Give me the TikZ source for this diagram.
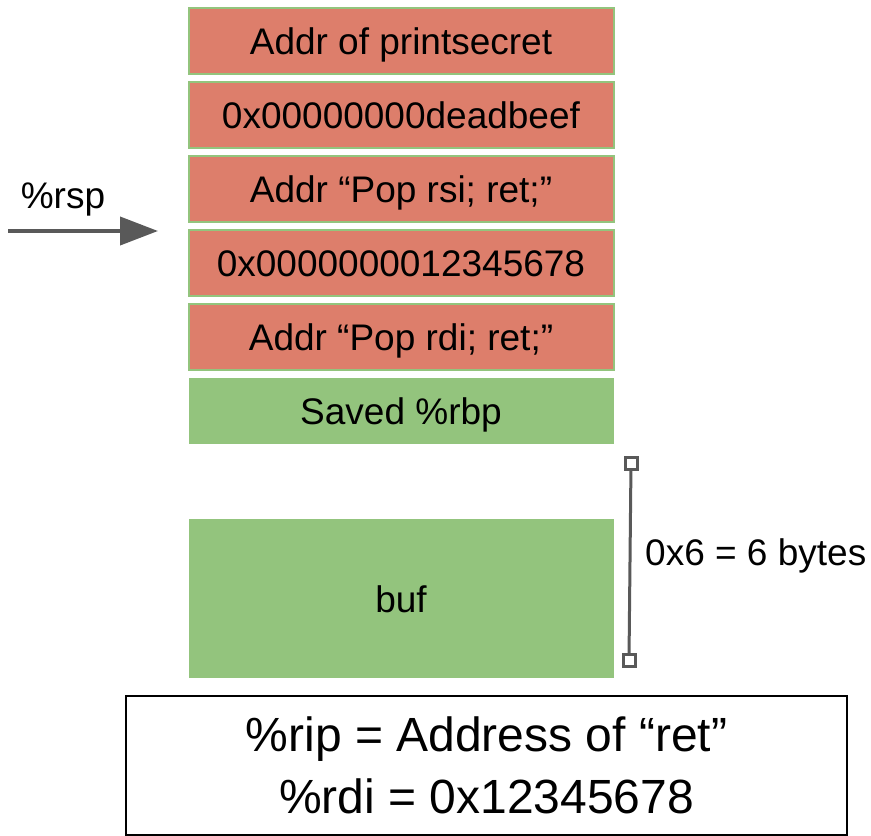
\documentclass[tikz,border=0pt]{standalone}
\usepackage{fontspec}
\setmainfont{Liberation Sans}
\usetikzlibrary{arrows.meta}
\definecolor{redbox}{HTML}{DD7E6B}
\definecolor{greenbox}{HTML}{93C47D}
\definecolor{darkgray}{HTML}{595959}
\begin{document}
\begin{tikzpicture}[x=1pt,y=-1pt,
  stackbox/.style={rectangle, minimum width=425pt, minimum height=66pt, inner sep=0pt,
    text height=27pt, text depth=0pt, font=\fontsize{37}{44}\selectfont},
  redslot/.style={stackbox, fill=redbox, draw=greenbox, line width=2pt},
  greenslot/.style={stackbox, fill=greenbox},
  label/.style={font=\fontsize{37}{44}\selectfont, inner sep=0pt},
  endsq/.style={rectangle, draw=darkgray, fill=white, line width=3pt, minimum size=12pt, inner sep=0pt}]
\useasboundingbox (0,0) rectangle (871,836);

\node[redslot] (b1) at (401,40.5) {Addr of printsecret};
\node[redslot] (b2) at (401,114.5) {0x00000000deadbeef};
\node[redslot] (b3) at (401,188.5) {Addr “Pop rsi; ret;”};
\node[redslot] (b4) at (401,262.5) {0x0000000012345678};
\node[redslot] (b5) at (401,336.5) {Addr “Pop rdi; ret;”};
\node[greenslot] (saved) at (401,410.5) {Saved \%rbp};
\node[greenslot, minimum height=159pt] (buf) at (401,598.5) {buf};

% rsp arrow
\node[label] (rsp) at (63,199) {\%rsp};
\coordinate (arrstart) at (8,231);
\coordinate (arrend) at (158,231);
\draw[darkgray, line width=4pt, -{Triangle[length=38pt,width=28pt]}] (arrstart) -- (arrend);

% size bracket
\coordinate (brtop) at (631,463);
\coordinate (brbot) at (629,660);
\draw[darkgray, line width=3pt] (brtop) -- (brbot);
\node[endsq] (sqtop) at (brtop) {};
\node[endsq] (sqbot) at (brbot) {};
\node[label, anchor=west] (size) at (645,556) {0x6 = 6 bytes};

% register box
\node[draw=black, line width=1.5pt, minimum width=721pt, minimum height=139pt, inner sep=0pt,
  align=center, font=\fontsize{48}{62}\selectfont] (regs) at (486.5,765.5)
  {\%rip = Address of “ret”\\\%rdi = 0x12345678};
\end{tikzpicture}
\end{document}
